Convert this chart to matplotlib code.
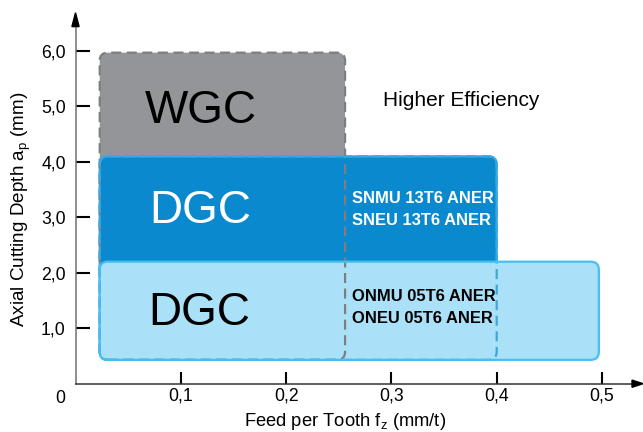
import matplotlib
matplotlib.use("Agg")
import matplotlib.pyplot as plt
from matplotlib.patches import FancyBboxPatch, Polygon

plt.rcParams['font.family'] = ['Liberation Sans', 'DejaVu Sans']
plt.rcParams['mathtext.fontset'] = 'custom'
plt.rcParams['mathtext.rm'] = 'Liberation Sans'
plt.rcParams['mathtext.it'] = 'Liberation Sans:italic'

# ---- data ----
region_names = ["WGC", "DGC", "DGC"]
feed_min = [0.023, 0.023, 0.023]
feed_max = [0.256, 0.400, 0.497]
depth_min = [0.43, 0.43, 0.43]
depth_max = [5.97, 4.10, 2.20]
insert_labels = [["SNMU 13T6 ANER", "SNEU 13T6 ANER"],
                 ["ONMU 05T6 ANER", "ONEU 05T6 ANER"]]
x_ticks = [0.1, 0.2, 0.3, 0.4, 0.5]
x_tick_labels = ["0,1", "0,2", "0,3", "0,4", "0,5"]
y_ticks = [1, 2, 3, 4, 5, 6]
y_tick_labels = ["1,0", "2,0", "3,0", "4,0", "5,0", "6,0"]
note_text = "Higher Efficiency"

W, H = 643, 432
fig = plt.figure(figsize=(W / 100, H / 100), dpi=100)
XMAX, YMAX = 0.539, 6.69
px_x = 1053.0   # pixels per unit x
px_y = 55.45    # pixels per unit y
ax = fig.add_axes([75.5 / W, (H - 383.7) / H, XMAX * px_x / W, YMAX * px_y / H])
ax.set_xlim(0, XMAX)
ax.set_ylim(0, YMAX)
for s in ax.spines.values():
    s.set_visible(False)

fills = ["#939598", "#0a89cf", "#abe0f9"]
edges = [None, "#3ba7e1", "#45c0ef"]
gray_edge = "#7d7e80"

r = 8 / px_x
asp = (8 / px_y) / r

def box(i, **kw):
    return FancyBboxPatch((feed_min[i], depth_min[i]),
                          feed_max[i] - feed_min[i], depth_max[i] - depth_min[i],
                          boxstyle=f"round,pad=0,rounding_size={r}",
                          mutation_aspect=asp, **kw)

# fills
ax.add_patch(box(0, facecolor=fills[0], edgecolor='none', zorder=1))
ax.add_patch(box(1, facecolor=fills[1], edgecolor=edges[1], lw=1.6, zorder=2))
ax.add_patch(box(2, facecolor=fills[2], edgecolor='none', zorder=3))
# dashed outlines
ax.add_patch(box(0, facecolor='none', edgecolor=gray_edge, lw=1.6,
                 linestyle=(0, (4.5, 2.5)), zorder=4))
ax.add_patch(box(1, facecolor='none', edgecolor=edges[1], lw=1.6,
                 linestyle=(0, (4.5, 2.5)), zorder=5))
ax.add_patch(box(2, facecolor='none', edgecolor=edges[2], lw=1.6, zorder=6))

# region names
name_pos = [(0.119, 4.70), (0.118, 2.89), (0.1175, 1.06)]
name_colors = ["black", "white", "black"]
for (x, y), n, c in zip(name_pos, region_names, name_colors):
    ax.text(x, y, n, fontsize=33, color=c, ha='center', va='baseline', zorder=10)

# insert labels
lab_x = 0.2625
lab_y = [[3.264, 2.862], [1.497, 1.089]]
lab_c = ["white", "black"]
for lines, ys, c in zip(insert_labels, lab_y, lab_c):
    for t, y in zip(lines, ys):
        ax.text(lab_x, y, t, fontsize=11.9, fontweight='bold', color=c,
                ha='left', va='baseline', zorder=10)

ax.text(0.2917, 5.01, note_text, fontsize=15, ha='left', va='baseline', zorder=10)

# axes lines and arrows
ax.plot([0, 0], [0, 6.45], color="#707070", lw=1.1, clip_on=False, zorder=7)
ax.plot([0, 0.53], [0, 0], color="#333333", lw=1.1, clip_on=False, zorder=7)
hw_x = 3.6 / px_x
ax.add_patch(Polygon([(-hw_x, 6.44), (hw_x, 6.44), (0, 6.69)], closed=True,
                     color='black', clip_on=False, zorder=8))
hw_y = 3.6 / px_y
ax.add_patch(Polygon([(0.5285, -hw_y), (0.5285, hw_y), (0.539, 0)], closed=True,
                     color='black', clip_on=False, zorder=8))

ax.set_xticks(x_ticks)
ax.set_xticklabels(x_tick_labels)
ax.set_yticks(y_ticks)
ax.set_yticklabels(y_tick_labels)
ax.tick_params(axis='x', direction='in', length=8.6, width=1.5, color='black',
               labelsize=12.7, pad=3)
ax.tick_params(axis='y', direction='in', length=10, width=1.5, color='black',
               labelsize=12.7, pad=7)
for t in ax.get_xticklines() + ax.get_yticklines():
    t.set_zorder(9)
ax.text(-0.0147, -0.35, "0", fontsize=12.7, ha='center', va='baseline')

ax.set_xlabel(r"Feed per Tooth f$_\mathrm{z}$ (mm/t)", fontsize=13.2, labelpad=6)
ax.set_ylabel(r"Axial Cutting Depth a$_\mathrm{p}$ (mm)", fontsize=13.6, labelpad=9)
ax.yaxis.set_label_coords(-(75.5 - 21) / (XMAX * px_x), (383.7 - 209) / (YMAX * px_y))
ax.xaxis.set_label_coords((345.5 - 75.5) / (XMAX * px_x), -(422 - 383.7) / (YMAX * px_y))
ax.xaxis.label.set_va('center')
ax.yaxis.label.set_va('center')

fig.savefig("out.png", dpi=100)
